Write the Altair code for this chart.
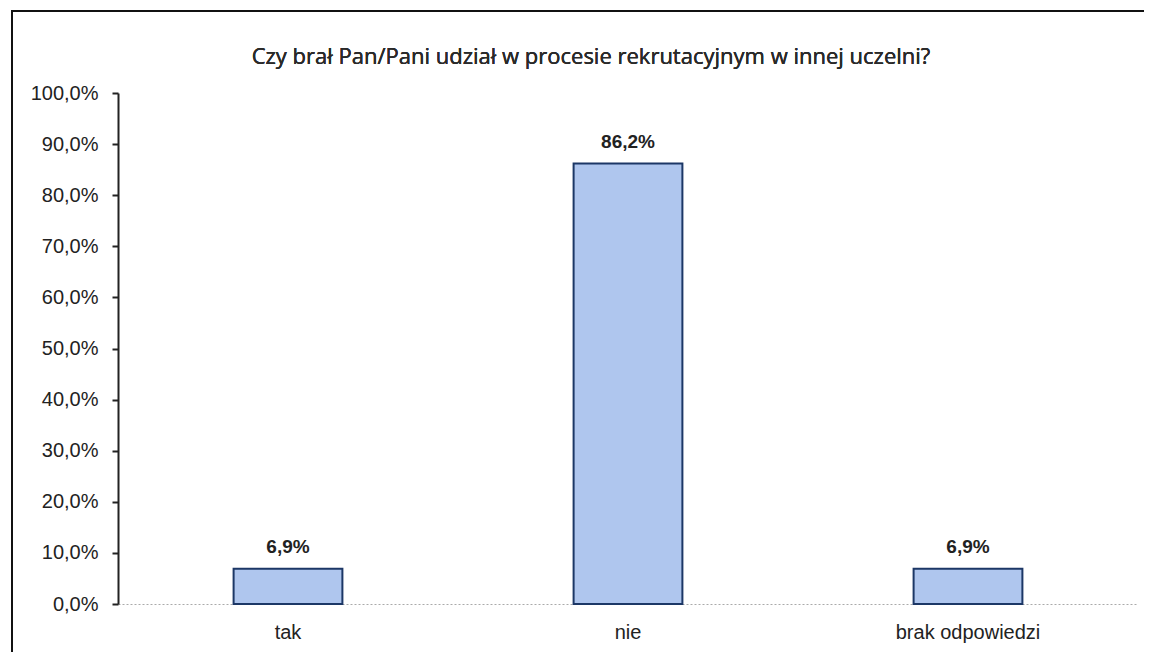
import altair as alt
import pandas as pd

categories = ["tak", "nie", "brak odpowiedzi"]
values = [6.9, 86.2, 6.9]
labels = ["6,9%", "86,2%", "6,9%"]
y_ticks = [0, 10, 20, 30, 40, 50, 60, 70, 80, 90, 100]
title_text = "Czy brał Pan/Pani udział w procesie rekrutacyjnym w innej uczelni?"

df = pd.DataFrame({"kat": categories, "val": values, "lab": labels})

W, H = 1020, 511

x_enc = alt.X("kat:N", sort=categories,
              scale=alt.Scale(paddingInner=0.68, paddingOuter=0.34),
              axis=alt.Axis(title=None, labelAngle=0, ticks=False,
                            labelPadding=18, labelFontSize=20,
                            labelFont="Liberation Sans",
                            labelColor="#222", domainColor="#aaaaaa",
                            domainDash=[2, 2], domainWidth=1))
y_enc = alt.Y("val:Q", scale=alt.Scale(domain=[0, 100], nice=False),
              axis=alt.Axis(title=None, values=y_ticks, grid=False,
                            labelExpr="replace(format(datum.value, '.1f'), '.', ',') + '%'",
                            labelFontSize=20, labelFont="Liberation Sans",
                            labelColor="#222", labelPadding=14,
                            tickSize=6, tickColor="#222", tickWidth=2,
                            domainColor="#222", domainWidth=2))

bars = alt.Chart(df).mark_bar(color="#afc6ee", stroke="#1c3766",
                              strokeWidth=2).encode(x=x_enc, y=y_enc)

text = alt.Chart(df).mark_text(dy=-22, fontSize=19, fontWeight="bold",
                               font="Liberation Sans", color="#222").encode(
    x=alt.X("kat:N", sort=categories), y="val:Q", text="lab:N")

title = alt.Chart(df).mark_text(fontSize=22, font="Open Sans", fontWeight=400,
                                color="#2a2a2a", align="center", baseline="middle").encode(
    x=alt.value(473), y=alt.value(-36), text=alt.value(title_text))

frame = alt.Chart(df).mark_rect(fill=None, stroke="#111", strokeWidth=2,
                                clip=False).encode(
    x=alt.value(-106), x2=alt.value(1027), y=alt.value(-82), y2=alt.value(575))

chart = alt.layer(bars, text, title, frame).properties(
    width=W, height=H,
    view=alt.ViewBackground(stroke=None, strokeWidth=0),
    autosize=alt.AutoSizeParams(type="none"),
    padding={"left": 110, "top": 85, "right": 6, "bottom": 48},
).configure_view(strokeWidth=0, stroke=None).configure(background="white")

chart.save("out.html", embed_options={"renderer": "svg", "actions": False})
